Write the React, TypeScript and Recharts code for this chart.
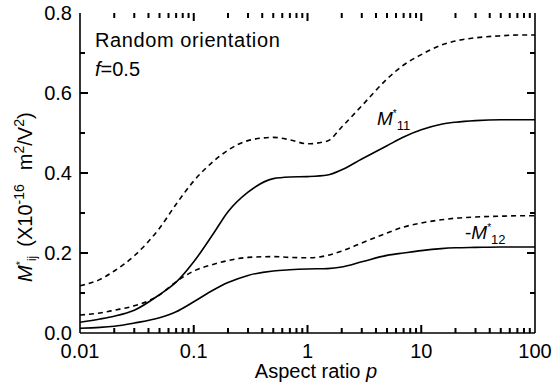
import React from 'react'
import { Line, LineChart, XAxis, YAxis } from 'recharts'

// aspect ratio p and the four curves
const aspect = [0.01, 0.015, 0.02, 0.03, 0.05, 0.07, 0.1, 0.15, 0.2, 0.3, 0.5, 0.7, 1, 1.5, 2, 3, 5, 7, 10, 15, 20, 30, 50, 70, 100]
const m11Solid = [0.027, 0.035, 0.042, 0.057, 0.096, 0.127, 0.178, 0.25, 0.303, 0.352, 0.386, 0.39, 0.391, 0.395, 0.408, 0.435, 0.468, 0.49, 0.508, 0.522, 0.527, 0.531, 0.533, 0.533, 0.533]
const m11Dashed = [0.118, 0.134, 0.155, 0.193, 0.262, 0.322, 0.38, 0.43, 0.457, 0.481, 0.489, 0.483, 0.473, 0.48, 0.515, 0.568, 0.635, 0.67, 0.696, 0.72, 0.73, 0.738, 0.743, 0.745, 0.745]
const m12Solid = [0.012, 0.014, 0.017, 0.025, 0.038, 0.053, 0.078, 0.108, 0.126, 0.144, 0.155, 0.158, 0.16, 0.161, 0.165, 0.178, 0.194, 0.2, 0.206, 0.211, 0.213, 0.214, 0.215, 0.215, 0.215]
const m12Dashed = [0.045, 0.05, 0.057, 0.068, 0.095, 0.128, 0.155, 0.172, 0.181, 0.189, 0.191, 0.189, 0.188, 0.194, 0.205, 0.225, 0.25, 0.265, 0.275, 0.283, 0.287, 0.29, 0.292, 0.293, 0.293]

const xMajor = [0.01, 0.1, 1, 10, 100]
const xMajorLabels = ['0.01', '0.1', '1', '10', '100']
const yTicks = [0, 0.1, 0.2, 0.3, 0.4, 0.5, 0.6, 0.7, 0.8]
const yMajor = [0, 0.2, 0.4, 0.6, 0.8]

const xMinor: number[] = []
xMajor.slice(0, -1).forEach((d) => {
    for (let k = 2; k < 10; k++) xMinor.push(+(d * k).toPrecision(3))
})

const data = aspect.map((p, i) => ({
    p,
    m11: m11Solid[i],
    m11d: m11Dashed[i],
    m12: m12Solid[i],
    m12d: m12Dashed[i],
}))

const W = 555
const H = 388
const TOP = 13
const BOTTOM = 333
const LEFT = 80
const RIGHT = 535
const FONT = '"Liberation Sans", Arial, Helvetica, sans-serif'

// frame tick marks, placed in the plot box fixed by the margins below
const tickX = (v: number) => LEFT + ((Math.log10(v) + 2) / 4) * (RIGHT - LEFT)
const tickY = (v: number) => BOTTOM - (v / 0.8) * (BOTTOM - TOP)

const xTickMarks = [...xMajor.slice(1, -1).map((v) => ({ v, len: 8 })), ...xMinor.map((v) => ({ v, len: 5 }))]
const yTickMarks = yTicks.slice(1, -1).map((v) => ({ v, len: yMajor.includes(v) ? 8 : 5 }))

const BottomLabel = (props: any) => {
    const { x, payload } = props
    const idx = xMajor.findIndex((m) => Math.abs(m - payload.value) < 1e-9)
    if (idx < 0) return <g />
    return (
        <text x={x} y={358} textAnchor="middle" fontSize={20} fontFamily={FONT} fill="#000">
            {xMajorLabels[idx]}
        </text>
    )
}

const LeftLabel = (props: any) => {
    const { y, payload } = props
    if (!yMajor.some((m) => Math.abs(m - payload.value) < 1e-9)) return <g />
    return (
        <text x={72} y={y + 7} textAnchor="end" fontSize={20} fontFamily={FONT} fill="#000">
            {payload.value.toFixed(1)}
        </text>
    )
}

export default function App() {
    return (
        <div style={{ position: 'absolute', left: 0, top: 0, background: '#fff' }}>
            <LineChart width={W} height={H} data={data} margin={{ top: TOP, right: 0, left: 0, bottom: 0 }}>
                <XAxis
                    dataKey="p"
                    type="number"
                    scale="log"
                    domain={[0.01, 100]}
                    ticks={xMajor}
                    interval={0}
                    allowDataOverflow
                    height={H - BOTTOM}
                    axisLine={{ stroke: '#000', strokeWidth: 1.6 }}
                    tickLine={false}
                    tick={BottomLabel}
                />
                <XAxis
                    xAxisId="top"
                    orientation="top"
                    dataKey="p"
                    type="number"
                    scale="log"
                    domain={[0.01, 100]}
                    allowDataOverflow
                    height={0}
                    axisLine={{ stroke: '#000', strokeWidth: 1.6 }}
                    tickLine={false}
                    tick={false}
                />
                <YAxis
                    type="number"
                    domain={[0, 0.8]}
                    ticks={yTicks}
                    interval={0}
                    allowDataOverflow
                    width={LEFT}
                    axisLine={{ stroke: '#000', strokeWidth: 1.6 }}
                    tickLine={false}
                    tick={LeftLabel}
                />
                <YAxis
                    yAxisId="right"
                    orientation="right"
                    type="number"
                    domain={[0, 0.8]}
                    allowDataOverflow
                    width={W - RIGHT}
                    axisLine={{ stroke: '#000', strokeWidth: 1.6 }}
                    tickLine={false}
                    tick={false}
                />

                <Line dataKey="m11d" type="monotone" stroke="#000" strokeWidth={1.6} strokeDasharray="5 4" dot={false} isAnimationActive={false} />
                <Line dataKey="m11" type="monotone" stroke="#000" strokeWidth={1.6} dot={false} isAnimationActive={false} />
                <Line dataKey="m12d" type="monotone" stroke="#000" strokeWidth={1.6} strokeDasharray="5 4" dot={false} isAnimationActive={false} />
                <Line dataKey="m12" type="monotone" stroke="#000" strokeWidth={1.6} dot={false} isAnimationActive={false} />

                <g fill="#000">
                    {xTickMarks.map(({ v, len }) => (
                        <rect key={'b' + v} x={tickX(v) - 1} y={BOTTOM - len} width={2} height={len} />
                    ))}
                    {xTickMarks.map(({ v, len }) => (
                        <rect key={'t' + v} x={tickX(v) - 1} y={TOP} width={2} height={len} />
                    ))}
                    {yTickMarks.map(({ v, len }) => (
                        <rect key={'l' + v} x={LEFT} y={tickY(v) - 1} width={len} height={2} />
                    ))}
                    {yTickMarks.map(({ v, len }) => (
                        <rect key={'r' + v} x={RIGHT - len} y={tickY(v) - 1} width={len} height={2} />
                    ))}
                </g>

                <text x={95} y={47} fontSize={20} fontFamily={FONT} letterSpacing={0.6} fill="#000">Random orientation</text>
                <text x={95} y={76} fontSize={20} fontFamily={FONT} fill="#000">
                    <tspan fontStyle="italic">f</tspan>
                    <tspan>=0.5</tspan>
                </text>
                <text x={377} y={125} fontSize={19} fontFamily={FONT} fill="#000">
                    <tspan fontStyle="italic">M</tspan>
                    <tspan fontSize={10} dy={-8}>*</tspan>
                    <tspan fontSize={13} dy={13}>11</tspan>
                </text>
                <text x={465} y={239} fontSize={19} fontFamily={FONT} fill="#000">
                    <tspan>-</tspan>
                    <tspan fontStyle="italic">M</tspan>
                    <tspan fontSize={10} dy={-8}>*</tspan>
                    <tspan fontSize={13} dy={13}>12</tspan>
                </text>
                <text transform="translate(32, 282) rotate(-90)" fontSize={20} fontFamily={FONT} fill="#000">
                    <tspan fontStyle="italic">M</tspan>
                    <tspan fontSize={11} dy={-8}>*</tspan>
                    <tspan fontSize={12} dy={12}>ij</tspan>
                    <tspan dx={9} dy={-4}>(X10</tspan>
                    <tspan fontSize={14} dy={-8}>-16</tspan>
                    <tspan dx={14} dy={8}>m</tspan>
                    <tspan fontSize={14} dy={-8}>2</tspan>
                    <tspan dy={8}>/V</tspan>
                    <tspan fontSize={14} dy={-8}>2</tspan>
                    <tspan dy={8}>)</tspan>
                </text>
                <text x={316} y={378} textAnchor="middle" fontSize={20} fontFamily={FONT} fill="#000">
                    <tspan>Aspect ratio </tspan>
                    <tspan fontStyle="italic">p</tspan>
                </text>
            </LineChart>
        </div>
    )
}
